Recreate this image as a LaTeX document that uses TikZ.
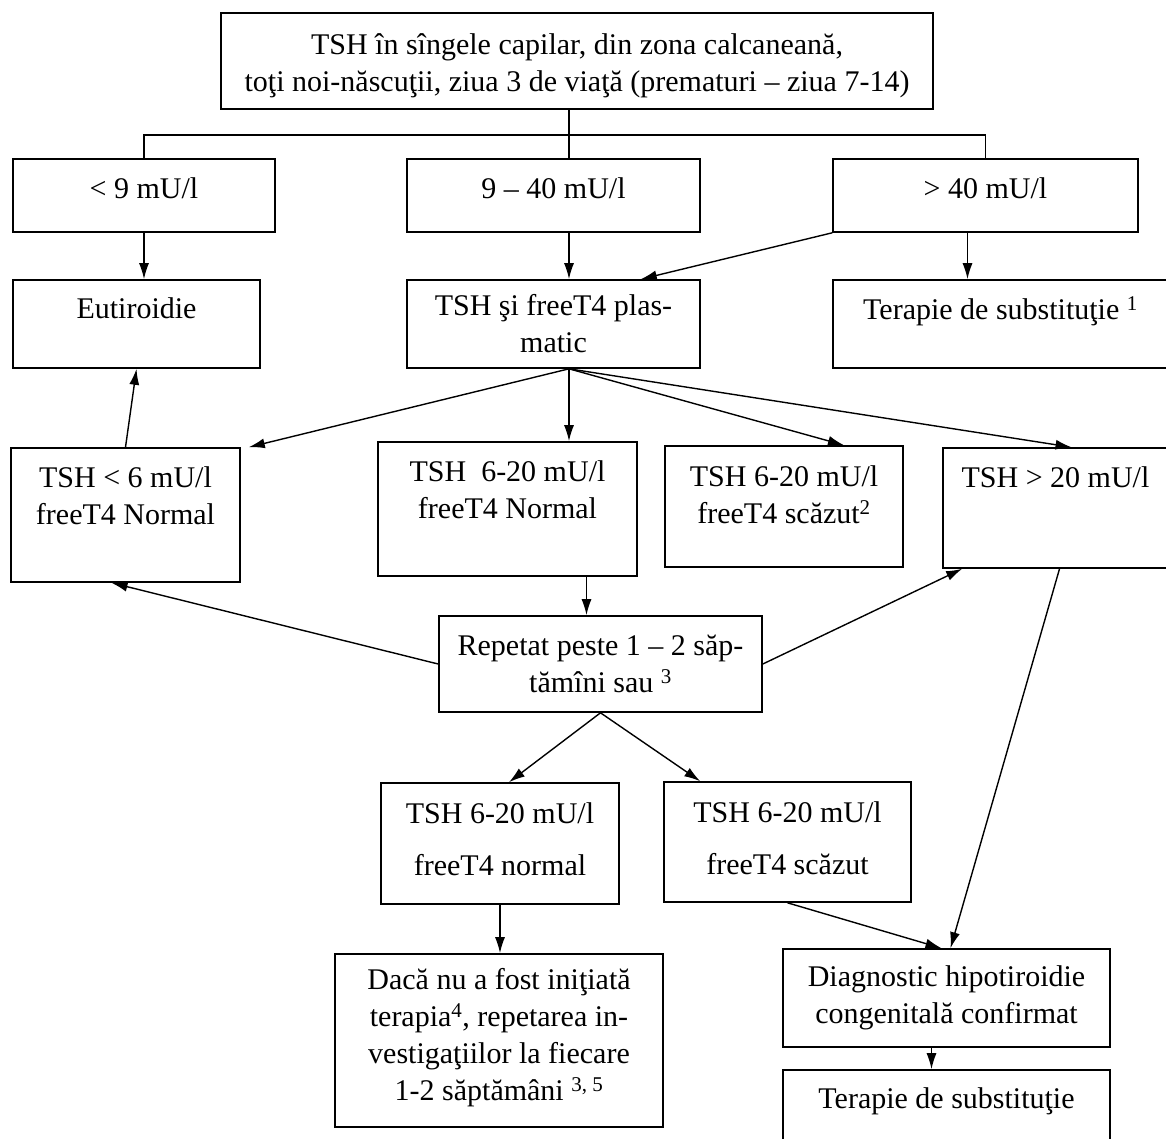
\documentclass[tikz,border=0pt]{standalone}
\usepackage{fontspec}
\setmainfont{Liberation Serif}
\usetikzlibrary{arrows.meta}
\begin{document}
\begin{tikzpicture}[x=1pt, y=-1pt, every node/.style={font=\fontsize{30}{37}\selectfont}, >={Latex[length=16pt, width=10pt]},
	box/.style={draw, line width=1.6pt, align=center, inner sep=0pt},
	arr/.style={->, line width=1.4pt}]
	\useasboundingbox (0,0) rectangle (1166,1138);
	\node[box, minimum width=712pt, minimum height=96pt, text height=68pt] (top) at (577,61) {TSH în sîngele capilar, din zona calcaneană,\\toţi noi-născuţii, ziua 3 de viaţă (prematuri – ziua 7-14)};
	\node[box, minimum width=262pt, minimum height=73pt, text depth=15pt] (lt9) at (144,195.5) {< 9 mU/l};
	\node[box, minimum width=293pt, minimum height=73pt, text depth=15pt] (mid9) at (553.5,195.5) {9 – 40 mU/l};
	\node[box, minimum width=305pt, minimum height=73pt, text depth=15pt] (gt40) at (985.5,195.5) {> 40 mU/l};
	\node[box, minimum width=247pt, minimum height=88pt, text depth=32pt] (eut) at (136.5,324) {Eutiroidie};
	\node[box, minimum width=293pt, minimum height=88pt] (plasm) at (553.5,324) {TSH şi freeT4 plas-\\matic};
	\node[box, minimum width=335pt, minimum height=88pt, text depth=32pt] (ter1) at (1000.5,324) {Terapie de substituţie \textsuperscript{1}};
	\node[box, minimum width=229pt, minimum height=134pt, text depth=38pt] (low6) at (125.5,515) {TSH < 6 mU/l\\freeT4 Normal};
	\node[box, minimum width=259pt, minimum height=134pt, text depth=38pt] (norm) at (507.5,509) {TSH~~6-20 mU/l\\freeT4 Normal};
	\node[box, minimum width=238pt, minimum height=121pt, text depth=24pt] (scaz) at (784,506.5) {TSH 6-20 mU/l\\freeT4 scăzut\textsuperscript{2}};
	\node[box, minimum width=225pt, minimum height=120pt, text depth=62pt] (gt20) at (1055.5,508) {TSH > 20 mU/l};
	\node[box, minimum width=323pt, minimum height=96pt] (rep) at (600.5,664) {Repetat peste 1 – 2 săp-\\tămîni sau \textsuperscript{3}};
	\node[box, minimum width=238pt, minimum height=121pt, text depth=8pt] (n2) at (500,843.5) {TSH 6-20 mU/l\\[15pt]freeT4 normal};
	\node[box, minimum width=247pt, minimum height=120pt, text depth=8pt] (s2) at (787.5,842) {TSH 6-20 mU/l\\[15pt]freeT4 scăzut};
	\node[box, minimum width=328pt, minimum height=173pt, text depth=12pt] (daca) at (499,1040.5) {Dacă nu a fost iniţiată\\terapia\textsuperscript{4}, repetarea in-\\vestigaţiilor la fiecare\\1-2 săptămâni \textsuperscript{3, 5}};
	\node[box, minimum width=327pt, minimum height=98pt] (diag) at (946.5,998) {Diagnostic hipotiroidie\\congenitală confirmat};
	\node[box, minimum width=327pt, minimum height=80pt, text depth=24pt] (ter2) at (946.5,1110) {Terapie de substituţie};
	\coordinate (hub) at (569,135);
	\draw[line width=1.4pt] (top.south -| hub) -- (hub |- mid9.north);
	\draw[line width=1.4pt] (lt9.north) |- (hub) -| (gt40.north);
	\draw[arr] (lt9.south) -- (lt9.south |- eut.north);
	\draw[arr] (hub |- mid9.south) -- (hub |- plasm.north);
	\draw[arr] ([xshift=-18pt]gt40.south) -- ([xshift=-33pt]ter1.north);
	\draw[arr] (gt40.south west) -- ([xshift=-60pt]plasm.north east);
	\coordinate (fork) at (hub |- plasm.south);
	\draw[arr] (fork) -- ([xshift=8pt]low6.north east);
	\draw[arr] (fork) -- (fork |- norm.north);
	\draw[arr] (fork) -- ([xshift=60pt]scaz.north);
	\draw[arr] (fork) -- ([xshift=16pt]gt20.north);
	\draw[arr] (low6.north) -- (eut.south);
	\draw[arr] ([xshift=79pt]norm.south) -- ([xshift=-14pt]rep.north);
	\draw[arr] (rep.west) -- ([xshift=-14pt]low6.south);
	\draw[arr] (rep.east) -- ([xshift=20pt]gt20.south west);
	\draw[arr] ([xshift=4pt]gt20.south) -- ([xshift=4pt]diag.north);
	\draw[arr] (rep.south) -- ([xshift=9pt]n2.north);
	\draw[arr] (rep.south) -- ([xshift=37pt]s2.north west);
	\draw[arr] (n2.south) -- (n2.south |- daca.north);
	\draw[arr] (s2.south) -- ([xshift=-5pt]diag.north);
	\draw[arr] ([xshift=-15pt]diag.south) -- ([xshift=-15pt]ter2.north);
\end{tikzpicture}
\end{document}
